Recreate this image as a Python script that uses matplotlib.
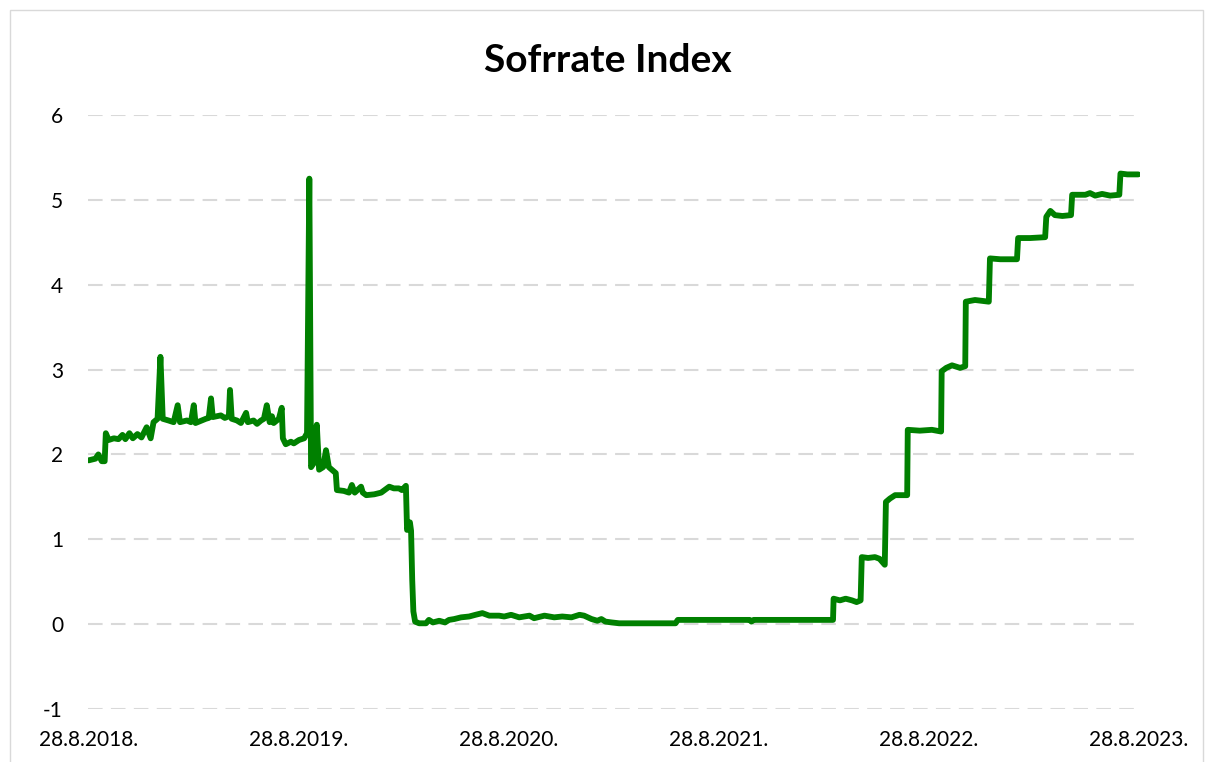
import matplotlib.pyplot as plt
import pandas as pd
from matplotlib.patches import Rectangle

# SOFR daily fixing
dates = [
    "2018-08-28", "2018-09-09", "2018-09-14", "2018-09-20", "2018-09-25", "2018-09-27",
    "2018-10-02", "2018-10-11", "2018-10-19", "2018-10-26", "2018-10-31", "2018-11-07",
    "2018-11-13", "2018-11-21", "2018-11-28", "2018-12-07", "2018-12-14", "2018-12-19",
    "2018-12-26", "2018-12-31", "2019-01-04", "2019-01-14", "2019-01-23", "2019-01-30",
    "2019-02-03", "2019-02-15", "2019-02-22", "2019-02-27", "2019-03-02", "2019-03-13",
    "2019-03-20", "2019-03-25", "2019-03-29", "2019-04-01", "2019-04-15", "2019-04-22",
    "2019-04-29", "2019-05-01", "2019-05-04", "2019-05-13", "2019-05-20", "2019-05-29",
    "2019-06-01", "2019-06-11", "2019-06-17", "2019-06-24", "2019-06-29", "2019-07-04",
    "2019-07-09", "2019-07-13", "2019-07-16", "2019-07-25", "2019-07-30", "2019-08-01",
    "2019-08-06", "2019-08-15", "2019-08-20", "2019-08-29", "2019-09-07", "2019-09-12",
    "2019-09-16", "2019-09-19", "2019-09-24", "2019-09-29", "2019-10-03", "2019-10-10",
    "2019-10-15", "2019-10-20", "2019-11-01", "2019-11-03", "2019-11-15", "2019-11-24",
    "2019-11-29", "2019-12-04", "2019-12-15", "2019-12-18", "2019-12-24", "2020-01-07",
    "2020-01-19", "2020-02-02", "2020-02-10", "2020-02-19", "2020-02-24", "2020-03-02",
    "2020-03-04", "2020-03-09", "2020-03-11", "2020-03-13", "2020-03-15", "2020-03-18",
    "2020-03-25", "2020-04-06", "2020-04-11", "2020-04-18", "2020-04-29", "2020-05-09",
    "2020-05-16", "2020-05-25", "2020-06-06", "2020-06-20", "2020-07-01", "2020-07-13",
    "2020-07-25", "2020-08-11", "2020-08-20", "2020-09-01", "2020-09-15", "2020-10-03",
    "2020-10-11", "2020-10-29", "2020-11-15", "2020-11-29", "2020-12-15", "2020-12-29",
    "2021-01-06", "2021-01-19", "2021-01-29", "2021-02-05", "2021-02-12", "2021-02-23",
    "2021-03-08", "2021-06-14", "2021-06-18", "2021-10-21", "2021-10-24", "2021-10-28",
    "2022-03-15", "2022-03-16", "2022-03-27", "2022-04-06", "2022-04-17", "2022-04-25",
    "2022-05-02", "2022-05-04", "2022-05-15", "2022-05-27", "2022-06-04", "2022-06-13",
    "2022-06-15", "2022-06-22", "2022-07-01", "2022-07-22", "2022-07-23", "2022-08-13",
    "2022-09-03", "2022-09-19", "2022-09-20", "2022-09-28", "2022-10-08", "2022-10-17",
    "2022-10-22", "2022-10-31", "2022-11-01", "2022-11-17", "2022-11-29", "2022-12-11",
    "2022-12-13", "2022-12-31", "2023-01-17", "2023-01-29", "2023-01-31", "2023-02-21",
    "2023-03-19", "2023-03-21", "2023-03-28", "2023-04-05", "2023-04-18", "2023-05-03",
    "2023-05-05", "2023-05-28", "2023-06-05", "2023-06-14", "2023-06-26", "2023-07-10",
    "2023-07-26", "2023-07-28", "2023-08-09", "2023-08-28",
]
rates = [
    1.93, 1.95, 2.00, 1.92, 1.92, 2.25,
    2.17, 2.19, 2.18, 2.23, 2.18, 2.25,
    2.19, 2.24, 2.20, 2.32, 2.19, 2.38,
    2.42, 3.15, 2.42, 2.40, 2.38, 2.58,
    2.38, 2.40, 2.38, 2.58, 2.37, 2.40,
    2.42, 2.43, 2.66, 2.44, 2.46, 2.43,
    2.45, 2.76, 2.42, 2.40, 2.37, 2.49,
    2.38, 2.40, 2.36, 2.40, 2.42, 2.58,
    2.38, 2.45, 2.37, 2.42, 2.55, 2.19,
    2.12, 2.15, 2.13, 2.17, 2.19, 2.25,
    5.25, 1.85, 1.90, 2.35, 1.82, 1.85,
    2.05, 1.85, 1.78, 1.58, 1.57, 1.55,
    1.64, 1.55, 1.62, 1.55, 1.52, 1.53,
    1.55, 1.62, 1.60, 1.60, 1.58, 1.63,
    1.11, 1.20, 1.10, 0.52, 0.15, 0.03,
    0.01, 0.01, 0.05, 0.02, 0.04, 0.02,
    0.05, 0.06, 0.08, 0.09, 0.11, 0.13,
    0.10, 0.10, 0.09, 0.11, 0.08, 0.10,
    0.07, 0.10, 0.08, 0.09, 0.08, 0.11,
    0.10, 0.06, 0.04, 0.06, 0.03, 0.02,
    0.01, 0.01, 0.05, 0.05, 0.03, 0.05,
    0.05, 0.30, 0.28, 0.30, 0.28, 0.26,
    0.28, 0.79, 0.78, 0.79, 0.77, 0.70,
    1.44, 1.48, 1.52, 1.52, 2.29, 2.28,
    2.29, 2.27, 2.98, 3.02, 3.05, 3.03,
    3.02, 3.04, 3.80, 3.82, 3.81, 3.80,
    4.31, 4.30, 4.30, 4.30, 4.55, 4.55,
    4.56, 4.80, 4.87, 4.82, 4.81, 4.82,
    5.06, 5.06, 5.08, 5.05, 5.07, 5.05,
    5.06, 5.31, 5.30, 5.30,
]
tick_dates = ["2018-08-28", "2019-08-28", "2020-08-28", "2021-08-28", "2022-08-28", "2023-08-28"]
tick_labels = ["28.8.2018.", "28.8.2019.", "28.8.2020.", "28.8.2021.", "28.8.2022.", "28.8.2023."]
y_ticks = [-1, 0, 1, 2, 3, 4, 5, 6]

plt.rcParams['font.family'] = ['Lato', 'DejaVu Sans']
plt.rcParams['axes.unicode_minus'] = False

W, H = 1215, 762
fig = plt.figure(figsize=(W / 100, H / 100), dpi=100)
ax = fig.add_axes([88 / W, 1 - 709 / H, (1140 - 88) / W, (709 - 115) / H])

x = pd.to_datetime(dates)
ax.plot(x, rates, color='#008000', lw=4.2, solid_joinstyle='round', solid_capstyle='round', zorder=3)

ax.set_ylim(-1, 6)
ax.set_yticks(y_ticks)
ax.set_xlim(pd.Timestamp("2018-08-27"), pd.Timestamp("2023-08-31"))
ax.set_xticks(pd.to_datetime(tick_dates))
ax.set_xticklabels(tick_labels)

ax.grid(axis='y', color='#d9d9d9', lw=1.5, linestyle=(0, (7, 4)))
ax.grid(axis='x', visible=False)
for s in ax.spines.values():
    s.set_visible(False)
ax.tick_params(axis='y', length=0, pad=18, labelsize=15, labelcolor='#000000')
ax.tick_params(axis='x', length=0, pad=15, labelsize=15, labelcolor='#000000')

fig.text(0.5, 1 - 60 / H, "Sofrrate Index", ha='center', va='center',
         fontsize=28, fontweight='bold', color='#000000')

# chart area border
fig.patches.append(Rectangle((10 / W, -0.05), (1203 - 10) / W, 1.05 - 10 / H,
                             transform=fig.transFigure, fill=False, edgecolor='#d9d9d9', lw=1))

fig.savefig("out.png", dpi=100)
